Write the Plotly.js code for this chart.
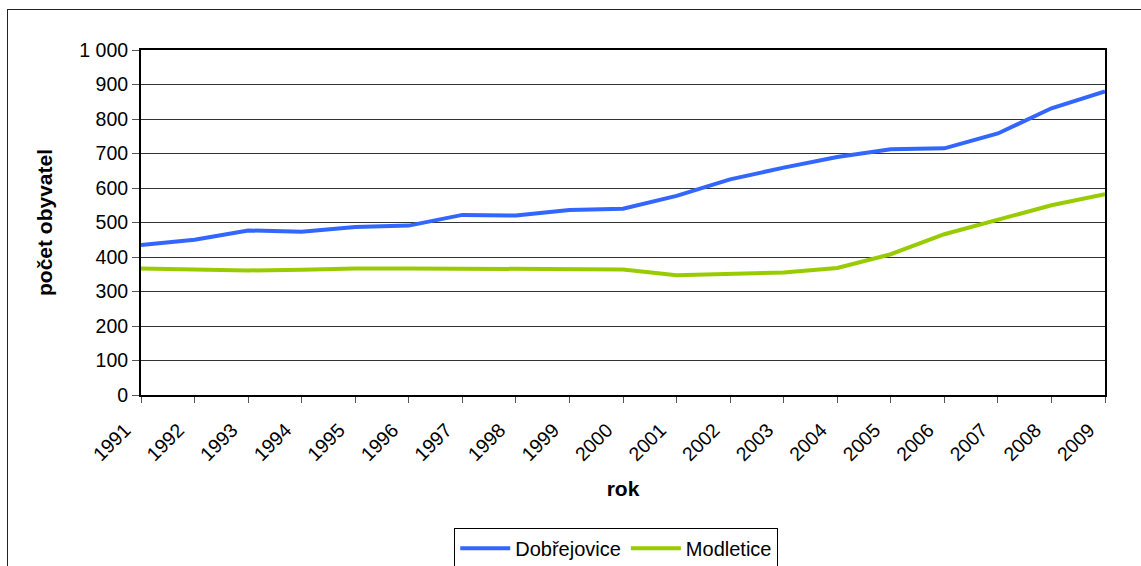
<!DOCTYPE html>
<html>
<head>
<meta charset="utf-8">
<script src="https://cdn.plot.ly/plotly-3.0.1.min.js"></script>
<style>
  html, body { margin: 0; padding: 0; background: #fff; }
  #wrap { position: relative; width: 1141px; height: 566px; overflow: hidden; }
  #chart { width: 1141px; height: 566px; }
  #frame { position: absolute; left: 7px; top: 9px; width: 1150px; height: 600px;
           border: 1.5px solid #222; pointer-events: none; }
</style>
</head>
<body>
<div id="wrap">
  <div id="chart"></div>
  <div id="frame"></div>
</div>
<script>
const years = ['1991','1992','1993','1994','1995','1996','1997','1998','1999','2000',
               '2001','2002','2003','2004','2005','2006','2007','2008','2009'];
const dobrejovice = [435, 450, 477, 473, 487, 491, 522, 520, 536, 540,
                     577, 625, 659, 690, 712, 715, 758, 831, 880];
const modletice = [367, 364, 361, 363, 367, 367, 366, 365, 364, 364,
                   347, 352, 355, 368, 408, 466, 508, 550, 582];
const yTicks = [0, 100, 200, 300, 400, 500, 600, 700, 800, 900, 1000];
const yTickText = ['0', '100', '200', '300', '400', '500', '600', '700', '800', '900', '1 000'];

const font = 'Liberation Sans, Arial, sans-serif';

const traces = [
  { x: years, y: dobrejovice, name: 'Dobřejovice', type: 'scatter', mode: 'lines',
    line: { color: '#3366FF', width: 4 } },
  { x: years, y: modletice, name: 'Modletice', type: 'scatter', mode: 'lines',
    line: { color: '#99CC00', width: 4 } }
];

const layout = {
  width: 1141, height: 566,
  margin: { l: 141, r: 36, t: 50, b: 171, autoexpand: false },
  paper_bgcolor: '#ffffff', plot_bgcolor: '#ffffff',
  font: { family: font, size: 19.5, color: '#000' },
  showlegend: true,
  legend: {
    orientation: 'h', x: 0.493, xanchor: 'center', y: -0.385, yanchor: 'top',
    bordercolor: '#000', borderwidth: 1, font: { family: font, size: 20, color: '#000' },
    itemwidth: 50, tracegroupgap: 0
  },
  xaxis: {
    type: 'category', range: [0, 18], automargin: false,
    tickangle: -45, ticks: 'outside', ticklen: 6, tickcolor: '#555', tickwidth: 1,
    ticklabelstandoff: 8, ticklabelshift: -16,
    showline: true, linecolor: '#000', linewidth: 2, mirror: true,
    showgrid: false, zeroline: false,
    tickfont: { family: font, size: 19.5, color: '#000' },
    title: { text: '<b>rok</b>', font: { family: font, size: 21, color: '#000' }, standoff: 17 }
  },
  yaxis: {
    range: [0, 1000], tickvals: yTicks, ticktext: yTickText, automargin: false,
    ticks: 'outside', ticklen: 7, tickcolor: '#555', tickwidth: 1,
    showline: true, linecolor: '#000', linewidth: 2, mirror: true,
    showgrid: true, gridcolor: '#333', gridwidth: 1, zeroline: false,
    tickfont: { family: font, size: 19.5, color: '#000' },
    title: { text: '<b>počet obyvatel</b>', font: { family: font, size: 21, color: '#000' }, standoff: 21 }
  }
};

Plotly.newPlot('chart', traces, layout, { displayModeBar: false, staticPlot: true });
</script>
</body>
</html>
